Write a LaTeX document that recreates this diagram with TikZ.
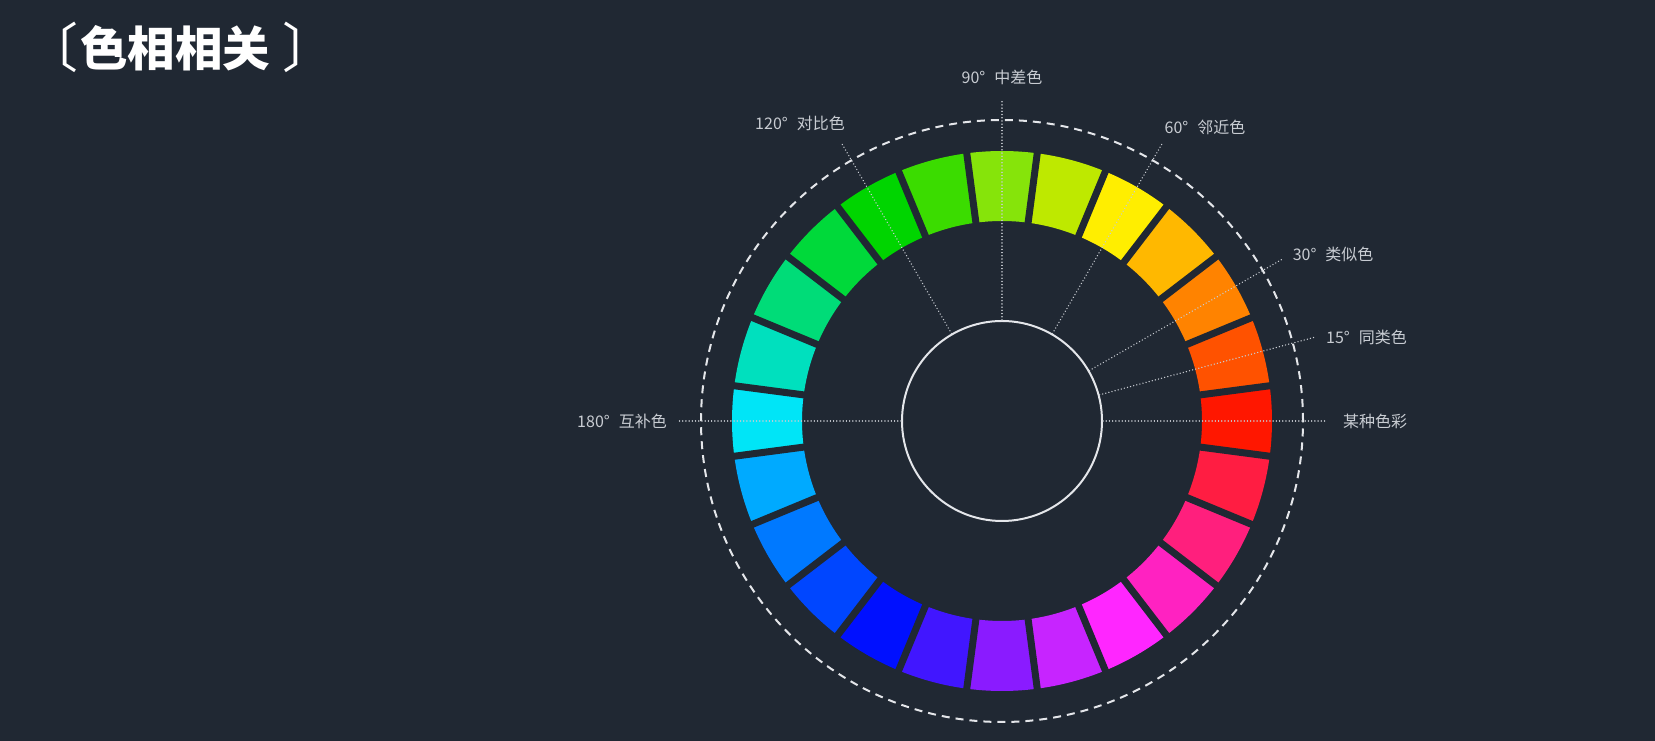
\documentclass[tikz,border=0pt]{standalone}
\usepackage{fontspec}
\newfontfamily\cjk{Noto Sans CJK SC}
\usetikzlibrary{calc}
\definecolor{bg}{HTML}{202833}
\definecolor{lbl}{HTML}{C8CCD2}
\definecolor{ring}{HTML}{E4E6EA}
\tikzset{
  seggap/.style={draw=bg, line width=7pt},
  dotline/.style={draw=lbl, line width=1.5pt, line cap=round, dash pattern=on 0.01pt off 3.2pt},
  dashring/.style={draw=ring, line width=2pt, dash pattern=on 8pt off 6pt},
  hubstyle/.style={circle, draw=ring, line width=2pt, minimum size=200pt, inner sep=0pt},
  lab/.style={font=\cjk\fontsize{16}{19}\selectfont, text=lbl, inner sep=0pt},
  titlestyle/.style={font=\cjk\fontsize{47.5}{56}\selectfont, text=white, inner sep=0pt}
}
\newcommand{\tbracket}[1]{\raisebox{-1pt}{\fontsize{53}{60}\selectfont #1}}
\begin{document}
\begin{tikzpicture}[x=1pt,y=1pt]
\fill[bg] (0,0) rectangle (1655,741);
\useasboundingbox (0,0) rectangle (1655,741);
\coordinate (c) at (1002,320);
% colour wheel
\foreach \a/\col in {0/FF1700, 15/FF5200, 30/FF8300, 45/FFB800, 60/FFEE00, 75/BEE900,
  90/86E40A, 105/3BDC00, 120/00D500, 135/00D93A, 150/00DC78, 165/00E0BE,
  180/00E5F7, 195/00AAFF, 210/0079FF, 225/0046FF, 240/0010FF, 255/4116FF,
  270/8A1BFF, 285/C724FF, 300/FF26FF, 315/FF22C1, 330/FF1F7D, 345/FF1D42} {
  \definecolor{segcol}{HTML}{\col}
  \fill[segcol] ($(c)+(\a-7.5:270)$) arc[start angle=\a-7.5, end angle=\a+7.5, radius=270]
    -- ($(c)+(\a+7.5:200)$) arc[start angle=\a+7.5, end angle=\a-7.5, radius=200] -- cycle;
}
\foreach \b in {7.5,22.5,...,352.5} {
  \draw[seggap] ($(c)+(\b:192)$) -- ($(c)+(\b:278)$);
}
% outer dashed circle
\draw[dashring] (c) circle[radius=301];
% hub
\node[hubstyle] (hub) at (c) {};
% end points of the dotted lines
\coordinate (e0) at ($(c)+(0:324)$);
\coordinate (e15) at ($(c)+(15:324)$);
\coordinate (e30) at ($(c)+(30:324)$);
\coordinate (e60) at ($(c)+(60:321)$);
\coordinate (e90) at ($(c)+(90:320)$);
\coordinate (e120) at ($(c)+(120:320)$);
\coordinate (e180) at ($(c)+(180:324)$);
\foreach \a in {0,15,30,60,90,120,180} {
  \draw[dotline] (hub.\a) -- (e\a);
}
% labels
\node[lab, anchor=west] (l0) at ([xshift=17pt]e0) {某种色彩};
\node[lab, anchor=west] (l15) at ([xshift=11pt]e15) {15°\hspace{9pt}同类色};
\node[lab, anchor=west] (l30) at ([xshift=10pt,yshift=5pt]e30) {30°\hspace{9pt}类似色};
\node[lab, anchor=west] (l60) at ([xshift=2pt,yshift=16pt]e60) {60°\hspace{9pt}邻近色};
\node[lab] (l90) at ([yshift=24pt]e90) {90°\hspace{9pt}中差色};
\node[lab, anchor=east] (l120) at ([xshift=3pt,yshift=20pt]e120) {120°\hspace{9pt}对比色};
\node[lab, anchor=east] (l180) at ([xshift=-11pt]e180) {180°\hspace{9pt}互补色};
% title
\node[titlestyle, anchor=base west] (title) at (25.7,674)
  {\tbracket{〔}\hspace{1.3pt}{\bfseries 色相相关}\hspace{12.5pt}\tbracket{〕}};
\end{tikzpicture}
\end{document}
